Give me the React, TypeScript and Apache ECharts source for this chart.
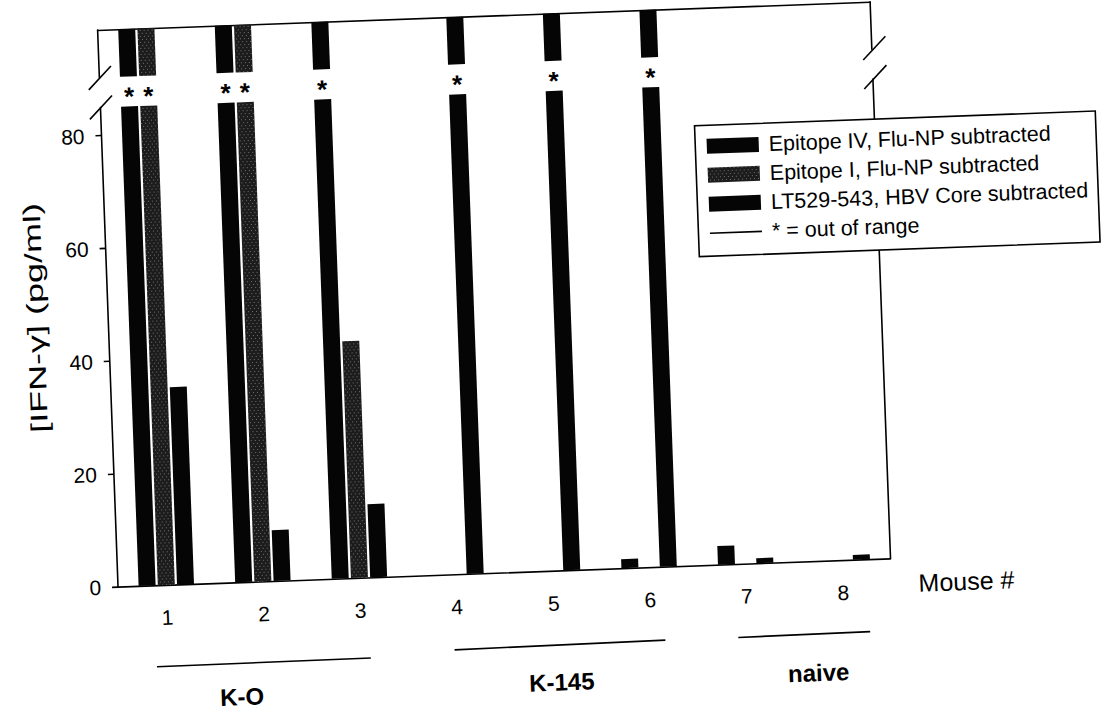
import React, { useEffect, useRef } from 'react';
import * as echarts from 'echarts';

// ---------- data ----------
const MICE = ['1', '2', '3', '4', '5', '6', '7', '8'];
const OUT_OF_RANGE = 999; // sentinel: value above the broken axis ("*")
const SERIES_NAMES = [
  'Epitope IV, Flu-NP subtracted',
  'Epitope I, Flu-NP subtracted',
  'LT529-543, HBV Core subtracted',
];
const EPITOPE_IV = [OUT_OF_RANGE, OUT_OF_RANGE, OUT_OF_RANGE, 0, 0, 1.6, 3.3, 0];
const EPITOPE_I = [OUT_OF_RANGE, OUT_OF_RANGE, 42, 0, 0, 0, 0, 0];
const LT529_543 = [35, 9, 13, OUT_OF_RANGE, OUT_OF_RANGE, OUT_OF_RANGE, 0.9, 0.85];
const OOR_LABEL = '* = out of range';
const Y_TICKS = [0, 20, 40, 60, 80];
const Y_MAX = 85;
const GROUP_NAMES = ['K-O', 'K-145', 'naive'];
const X_NAME = 'Mouse #';
const Y_NAME = '[IFN-\u03b3] (pg/ml)';

// ---------- layout (un-rotated frame) ----------
const FONT = '"Liberation Sans", Arial, Helvetica, sans-serif';
const PLOT_LEFT = 110;
const PLOT_W = 773;
const LOW_TOP = 91;
const LOW_H = 479.5;
const UP_TOP = 13.5;
const UP_H = 47.5;
const INK = '#000';
const LW = 1.6;
const GROUP_LINES = [
  [146, 652, 360, 651],
  [444, 646, 655, 644],
  [728, 644, 860, 643],
];
const GROUP_LABEL_POS = [
  [230, 685],
  [550, 682],
  [807, 682],
];

const BAR_COLORS = ['#050505', '#1c1c1c', '#050505'];
const STIPPLE = {
  symbol: 'rect',
  symbolSize: 1,
  color: 'rgba(255,255,255,0.38)',
  dashArrayX: [[1, 3], [0, 2, 1, 1]],
  dashArrayY: [1, 2],
  rotation: 0,
};

export default function App() {
  const ref = useRef<HTMLDivElement>(null);

  useEffect(() => {
    if (!ref.current) return;
    const chart = echarts.init(ref.current, null, { renderer: 'svg' });
    const seriesData = [EPITOPE_IV, EPITOPE_I, LT529_543];

    const lineStyle = { color: INK, width: LW };
    const hiddenAxisParts = {
      axisTick: { show: false },
      axisLabel: { show: false },
      splitLine: { show: false },
    };

    const lowerBars = seriesData.map((d, i) => ({
      type: 'bar',
      name: SERIES_NAMES[i],
      xAxisIndex: 0,
      yAxisIndex: 0,
      data: d,
      barWidth: 17,
      barGap: '13%',
      clip: true,
      itemStyle: { color: BAR_COLORS[i], decal: i === 1 ? STIPPLE : undefined },
      emphasis: { disabled: true },
    }));
    const upperBars = seriesData.map((d, i) => ({
      type: 'bar',
      name: SERIES_NAMES[i],
      xAxisIndex: 1,
      yAxisIndex: 2,
      data: d.map((v) => (v === OUT_OF_RANGE ? v : null)),
      barWidth: 17,
      barGap: '13%',
      clip: true,
      itemStyle: { color: BAR_COLORS[i], decal: i === 1 ? STIPPLE : undefined },
      label: {
        show: true,
        position: 'bottom',
        distance: 7,
        formatter: '*',
        color: INK,
        fontSize: 26,
        fontWeight: 'bold',
        fontFamily: FONT,
      },
      emphasis: { disabled: true },
    }));

    const slash = (cx: number, cy: number) => ({
      type: 'line',
      shape: { x1: cx - 11.5, y1: cy + 11.5, x2: cx + 11.5, y2: cy - 11.5 },
      style: { stroke: INK, lineWidth: LW },
    });

    const plotRight = PLOT_LEFT + PLOT_W;
    const upBottom = UP_TOP + UP_H;

    const option: any = {
      animation: false,
      backgroundColor: '#fff',
      grid: [
        { left: PLOT_LEFT, top: LOW_TOP, width: PLOT_W, height: LOW_H },
        { left: PLOT_LEFT, top: UP_TOP, width: PLOT_W, height: UP_H },
      ],
      xAxis: [
        {
          gridIndex: 0,
          type: 'category',
          data: MICE,
          position: 'bottom',
          axisLine: { onZero: false, lineStyle },
          axisTick: { alignWithLabel: true, length: 6, lineStyle },
          axisLabel: { color: INK, fontSize: 21, fontFamily: FONT, margin: 22 },
          splitLine: { show: false },
        },
        {
          gridIndex: 1,
          type: 'category',
          data: MICE,
          position: 'top',
          axisLine: { onZero: false, lineStyle },
          ...hiddenAxisParts,
        },
      ],
      yAxis: [
        {
          gridIndex: 0,
          type: 'value',
          min: 0,
          max: Y_MAX,
          position: 'left',
          axisLine: { show: true, onZero: false, lineStyle },
          axisTick: { show: true, length: 6, lineStyle, customValues: Y_TICKS },
          axisLabel: {
            color: INK,
            fontSize: 21,
            fontFamily: FONT,
            margin: 17,
            customValues: Y_TICKS,
          },
          splitLine: { show: false },
        },
        {
          gridIndex: 0,
          type: 'value',
          min: 0,
          max: Y_MAX,
          position: 'right',
          axisLine: { show: true, onZero: false, lineStyle },
          ...hiddenAxisParts,
        },
        {
          gridIndex: 1,
          type: 'value',
          min: 100,
          max: 200,
          position: 'left',
          axisLine: { show: true, onZero: false, lineStyle },
          ...hiddenAxisParts,
        },
        {
          gridIndex: 1,
          type: 'value',
          min: 100,
          max: 200,
          position: 'right',
          axisLine: { show: true, onZero: false, lineStyle },
          ...hiddenAxisParts,
        },
      ],
      legend: {
        data: [
          { name: SERIES_NAMES[0], icon: 'rect' },
          { name: SERIES_NAMES[1], icon: 'rect' },
          { name: SERIES_NAMES[2], icon: 'rect' },
          { name: OOR_LABEL, icon: 'path://M0,0H52V1.6H0Z' },
        ],
        orient: 'vertical',
        left: 703,
        top: 131,
        padding: [10, 10, 12, 11.5],
        itemWidth: 52,
        itemHeight: 15,
        itemGap: 7,
        backgroundColor: '#fff',
        borderColor: INK,
        borderWidth: LW,
        borderRadius: 0,
        selectedMode: false,
        textStyle: {
          color: INK,
          fontSize: 21.5,
          fontFamily: FONT,
          lineHeight: 21,
          padding: [0, 0, 0, 5],
        },
      },
      series: [
        ...lowerBars,
        ...upperBars,
        {
          type: 'line',
          name: OOR_LABEL,
          xAxisIndex: 0,
          yAxisIndex: 0,
          data: [],
          symbol: 'none',
          itemStyle: { color: INK },
          lineStyle: { color: INK, width: LW },
        },
      ],
      graphic: [
        slash(PLOT_LEFT + 0.5, upBottom + 0.5),
        slash(PLOT_LEFT + 0.5, LOW_TOP),
        slash(plotRight + 2.5, upBottom - 1),
        slash(plotRight + 2.5, LOW_TOP - 2),
        {
          type: 'text',
          x: 37,
          y: 299,
          rotation: Math.PI / 2,
          scaleX: 1.5,
          style: {
            text: Y_NAME,
            fill: INK,
            fontSize: 24,
            fontFamily: FONT,
            textAlign: 'center',
            textVerticalAlign: 'middle',
          },
        },
        {
          type: 'text',
          x: 958,
          y: 596,
          style: {
            text: X_NAME,
            fill: INK,
            fontSize: 25,
            fontFamily: FONT,
            textAlign: 'center',
            textVerticalAlign: 'middle',
          },
        },
        ...GROUP_LINES.map((l) => ({
          type: 'line',
          shape: { x1: l[0], y1: l[1], x2: l[2], y2: l[3] },
          style: { stroke: INK, lineWidth: LW },
        })),
        ...GROUP_NAMES.map((name, i) => ({
          type: 'text',
          x: GROUP_LABEL_POS[i][0],
          y: GROUP_LABEL_POS[i][1],
          style: {
            text: name,
            fill: INK,
            fontSize: 24,
            fontWeight: 'bold',
            fontFamily: FONT,
            textAlign: 'center',
            textVerticalAlign: 'middle',
          },
        })),
      ],
    };

    chart.setOption(option);
    return () => chart.dispose();
  }, []);

  return (
    <div
      ref={ref}
      style={{
        position: 'absolute',
        left: 0,
        top: 0,
        width: 1110,
        height: 719,
        transform: 'rotate(-2.1deg)',
        transformOrigin: '555px 359.5px',
        background: '#fff',
      }}
    />
  );
}
